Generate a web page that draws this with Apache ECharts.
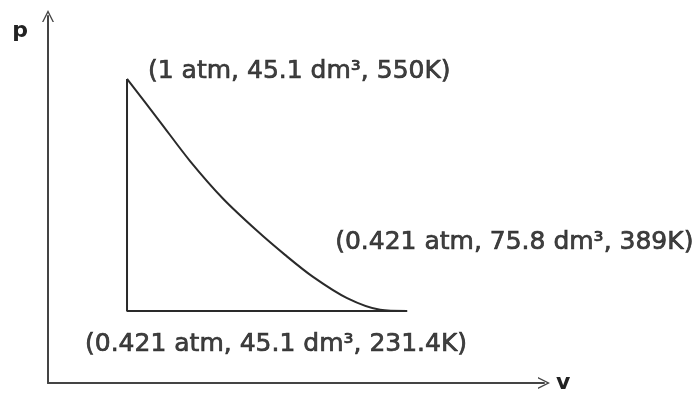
<!DOCTYPE html>
<html>
<head>
<meta charset="utf-8">
<script src="https://cdn.jsdelivr.net/npm/echarts@6/dist/echarts.min.js"></script>
<style>
  html, body { margin: 0; padding: 0; background: #fff; }
  #chart { width: 695px; height: 396px; }
</style>
</head>
<body>
<div id="chart"></div>
<script>
// adiabatic curve (V in dm3, p in atm)
var curveV = [45.1, 48.72, 52.01, 55.63, 59.35, 62.42, 65.49, 69.22, 72.84, 75.8]
var curveP = [1.0, 0.893, 0.795, 0.701, 0.621, 0.561, 0.506, 0.453, 0.424, 0.421]

// isochoric + isobaric legs
var legV = [45.1, 45.1, 75.8]
var legP = [1.0, 0.421, 0.421]

// state points and their labels
var stateV = [45.1, 75.8, 45.1]
var stateP = [1.0, 0.421, 0.421]
var stateText = [
  '(1 atm, 45.1 dm³, 550K)',
  '(0.421 atm, 75.8 dm³, 389K)',
  '(0.421 atm, 45.1 dm³, 231.4K)'
]
var labelOffsets = [[21, -7], [-72, -68], [-42, 34]]

var chevron = 'path://M0,10 L5,0 L10,10 L8.8,10 L5,2.4 L1.2,10 Z'

var chart = echarts.init(document.getElementById('chart'))

chart.setOption({
  animation: false,
  textStyle: { fontFamily: 'DejaVu Sans, Arial, sans-serif' },
  grid: { left: 48, right: 151, top: 16, bottom: 13 },
  xAxis: {
    type: 'value',
    min: 36.44,
    max: 90.8,
    name: 'v',
    nameLocation: 'end',
    nameGap: 12,
    nameTextStyle: { fontSize: 22, color: '#222', fontWeight: 'bold', padding: [6, 0, 0, 0] },
    axisLine: {
      show: true,
      lineStyle: { color: '#444', width: 2 },
      symbol: ['none', chevron],
      symbolSize: [16, 12]
    },
    axisTick: { show: false },
    axisLabel: { show: false },
    splitLine: { show: false }
  },
  yAxis: {
    type: 'value',
    min: 0.2413,
    max: 1.157,
    name: 'p',
    nameLocation: 'end',
    nameGap: -26,
    nameTextStyle: { fontSize: 22, color: '#222', fontWeight: 'bold', align: 'right', padding: [0, 20, 0, 0] },
    axisLine: {
      show: true,
      lineStyle: { color: '#444', width: 2 },
      symbol: ['none', chevron],
      symbolSize: [16, 12]
    },
    axisTick: { show: false },
    axisLabel: { show: false },
    splitLine: { show: false }
  },
  series: [
    {
      type: 'line',
      data: legV.map(function (v, i) { return [v, legP[i]] }),
      symbol: 'none',
      lineStyle: { color: '#2a2a2a', width: 2 }
    },
    {
      type: 'line',
      data: curveV.map(function (v, i) { return [v, curveP[i]] }),
      smooth: 0.3,
      symbol: 'none',
      lineStyle: { color: '#2a2a2a', width: 2 }
    },
    {
      type: 'scatter',
      symbolSize: 1,
      itemStyle: { color: 'rgba(0,0,0,0)' },
      data: stateV.map(function (v, i) {
        return {
          value: [v, stateP[i]],
          label: {
            show: true,
            position: 'inside',
            align: 'left',
            verticalAlign: 'middle',
            offset: labelOffsets[i],
            formatter: stateText[i],
            fontSize: 25,
            color: '#111',
            textBorderColor: '#111',
            textBorderWidth: 0.7
          }
        }
      })
    }
  ]
})
</script>
</body>
</html>
